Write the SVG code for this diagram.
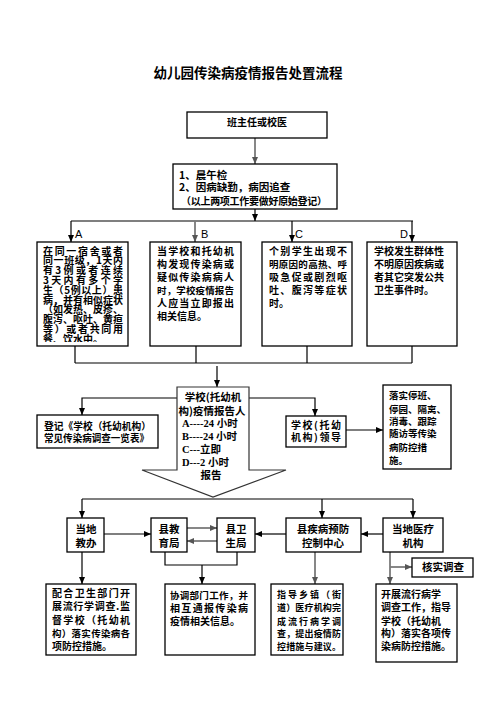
<svg xmlns="http://www.w3.org/2000/svg" width="496" height="702" viewBox="0 0 496 702">
<style>
text{font-family:"Noto Sans CJK SC","Liberation Sans",sans-serif;font-weight:bold;fill:#000;font-size:10px}
.m{font-size:10.5px}
.s{font-size:9.5px}
.xs{font-size:9px}
.lat{font-family:"Liberation Serif","Noto Sans CJK SC",serif;font-size:10.5px}
.let{font-family:"Liberation Sans",sans-serif;font-weight:normal;font-size:11px}
.box{fill:#fff;stroke:#000;stroke-width:1.3}
.ln{fill:none;stroke:#000;stroke-width:1.2}
.g{fill:none;stroke:#7a7a7a;stroke-width:1.8}
.c{text-anchor:middle}
</style>
<defs>
<marker id="ab" markerWidth="7" markerHeight="6" refX="7" refY="3" orient="auto" markerUnits="userSpaceOnUse"><path d="M0,0 L7,3 L0,6 z" fill="#000"/></marker>
<marker id="ag" markerWidth="7" markerHeight="6" refX="7" refY="3" orient="auto" markerUnits="userSpaceOnUse"><path d="M0,0 L7,3 L0,6 z" fill="#555"/></marker>
<clipPath id="clipA"><rect x="37" y="242" width="91" height="100"/></clipPath>
</defs>
<rect width="496" height="702" fill="#fff"/>
<text x="248" y="78" class="c" style="font-size:13.5px">幼儿园传染病疫情报告处置流程</text>

<g id="connectors">
<path class="g" d="M255,138 V164" marker-end="url(#ag)"/>
<path class="ln" d="M255,209 V221" marker-end="url(#ab)"/>
<path class="ln" d="M71,221 H413"/>
<path class="ln" d="M71,221 V242" marker-end="url(#ab)"/>
<path class="g" d="M195,221 V242" marker-end="url(#ag)"/>
<path class="ln" d="M292,221 V242" marker-end="url(#ab)"/>
<path class="ln" d="M412,221 V242" marker-end="url(#ab)"/>
<path class="ln" d="M75,346 V363 M196,346 V363 M307,346 V363 M412,346 V363 M75,363 H412"/>
<path class="ln" d="M217,366 V387" marker-end="url(#ab)"/>
<path class="ln" d="M178,398 H82 V415" marker-end="url(#ab)"/>
<path class="ln" d="M249,398 H315 V416" marker-end="url(#ab)"/>
<path class="ln" d="M346,430 H383" marker-end="url(#ab)"/>
<path class="ln" d="M82,499 H413"/>
<path class="ln" d="M82,499 V518" marker-end="url(#ab)"/>
<path class="ln" d="M322,499 V518" marker-end="url(#ab)"/>
<path class="ln" d="M413,499 V518" marker-end="url(#ab)"/>
<path class="ln" d="M104,534 H151" marker-end="url(#ab)"/>
<path class="g" d="M187,528 H217" marker-end="url(#ag)"/>
<path class="g" d="M217,541 H187" marker-end="url(#ag)"/>
<path class="ln" d="M286,534 H255" marker-end="url(#ab)"/>
<path class="ln" d="M383,534 H361" marker-end="url(#ab)"/>
<path class="ln" d="M165,552 V565 H237 V552"/>
<path class="ln" d="M202,565 V584" marker-end="url(#ab)"/>
<path class="ln" d="M82,552 V584" marker-end="url(#ab)"/>
<path class="g" d="M315,552 V584" marker-end="url(#ag)"/>
<path class="g" d="M390,552 V584" marker-end="url(#ag)"/>
<path class="g" d="M390,567 H412" marker-end="url(#ag)"/>
</g>

<g id="letters">
<text class="let" x="75" y="238">A</text>
<text class="let" x="201" y="238">B</text>
<text class="let" x="295" y="238">C</text>
<text class="let" x="400" y="238">D</text>
</g>

<g id="n1">
<rect class="box" x="187" y="112" width="140" height="26"/>
<text class="c" x="257" y="126">班主任或校医</text>
</g>

<g id="n2">
<rect class="box" x="173" y="164" width="164" height="45"/>
<text class="m" x="179" y="179">1、晨午检</text>
<text class="m" x="179" y="191">2、因病缺勤，病因追查</text>
<text x="181" y="205" textLength="146" lengthAdjust="spacing">（以上两项工作要做好原始登记）</text>
</g>

<g id="nA">
<rect class="box" x="37" y="242" width="91" height="104"/>
<g class="s" clip-path="url(#clipA)">
<text x="43" y="254.5" textLength="80" lengthAdjust="spacing">在同一宿舍或者</text>
<text x="43" y="264.3" textLength="80" lengthAdjust="spacing">同一班级，1天内</text>
<text x="43" y="274.1" textLength="80" lengthAdjust="spacing">有3例或者连续</text>
<text x="43" y="283.9" textLength="80" lengthAdjust="spacing">3天内有多个学</text>
<text x="43" y="293.7" textLength="80" lengthAdjust="spacing">生（5例以上）患</text>
<text x="43" y="303.5" textLength="80" lengthAdjust="spacing">病，并有相似症状</text>
<text x="43" y="313.3" textLength="80" lengthAdjust="spacing">（如发热、皮疹、</text>
<text x="43" y="323.1" textLength="80" lengthAdjust="spacing">腹泻、呕吐、黄疸</text>
<text x="43" y="332.9" textLength="80" lengthAdjust="spacing">等）或者共同用</text>
<text x="43" y="342.7">餐、饮水中。</text>
</g>
</g>

<g id="nB">
<rect class="box" x="150" y="242" width="91" height="104"/>
<text x="157" y="254.5" textLength="77" lengthAdjust="spacing">当学校和托幼机</text>
<text x="157" y="267.8" textLength="77" lengthAdjust="spacing">构发现传染病或</text>
<text x="157" y="280.8" textLength="77" lengthAdjust="spacing">疑似传染病病人</text>
<text class="s" x="157" y="293.8" textLength="77" lengthAdjust="spacing">时，学校疫情报告</text>
<text x="157" y="306.8" textLength="77" lengthAdjust="spacing">人应当立即报出</text>
<text x="157" y="319.8">相关信息。</text>
</g>

<g id="nC">
<rect class="box" x="262" y="242" width="90" height="104"/>
<text x="269" y="254.5" textLength="78" lengthAdjust="spacing">个别学生出现不</text>
<text class="s" x="269" y="267.8" textLength="78" lengthAdjust="spacing">明原因的高热、呼</text>
<text x="269" y="280.8" textLength="78" lengthAdjust="spacing">吸急促或剧烈呕</text>
<text x="269" y="293.8" textLength="78" lengthAdjust="spacing">吐、腹泻等症状</text>
<text x="269" y="306.8">时。</text>
</g>

<g id="nD">
<rect class="box" x="367" y="242" width="90" height="104"/>
<text x="374" y="254.5" textLength="70" lengthAdjust="spacing">学校发生群体性</text>
<text x="374" y="267.8" textLength="70" lengthAdjust="spacing">不明原因疾病或</text>
<text x="374" y="280.8" textLength="70" lengthAdjust="spacing">者其它突发公共</text>
<text x="374" y="293.8">卫生事件时。</text>
</g>

<g id="nReport">
<path d="M177,387 H249 V470 H286 L213,497 L142,470 H177 Z" fill="#fff" stroke="#333" stroke-width="1.2"/>
<text class="c m" x="213" y="401">学校(托幼机</text>
<text class="c m" x="212" y="415">构)疫情报告人</text>
<text class="lat" x="182" y="427">A----24 小时</text>
<text class="lat" x="182" y="440">B----24 小时</text>
<text class="lat" x="182" y="453">C---立即</text>
<text class="lat" x="182" y="466">D---2 小时</text>
<text class="c m" x="211" y="479">报告</text>
</g>

<g id="nRegister">
<rect class="box" x="37" y="415" width="121" height="33"/>
<text x="44" y="430" textLength="107" lengthAdjust="spacingAndGlyphs">登记《学校（托幼机构）</text>
<text x="44" y="442" textLength="105" lengthAdjust="spacingAndGlyphs">常见传染病调查一览表》</text>
</g>

<g id="nLeader">
<rect class="box" x="286" y="416" width="60" height="31"/>
<text x="291" y="429" textLength="50" lengthAdjust="spacing">学校(托幼</text>
<text x="291" y="441" textLength="50" lengthAdjust="spacing">机构)领导</text>
</g>

<g id="nMeasures" class="s">
<rect class="box" x="383" y="385" width="68" height="84"/>
<text class="s" x="389" y="399">落实停班、</text>
<text class="s" x="389" y="412.5">停园、隔离、</text>
<text class="s" x="389" y="425">消毒、跟踪</text>
<text class="s" x="389" y="437">随访等传染</text>
<text class="s" x="389" y="450.5">病防控措</text>
<text class="s" x="389" y="464">施。</text>
</g>

<g id="nJiaoban">
<rect class="box" x="67" y="518" width="37" height="34"/>
<text class="c m" x="86" y="532.5">当地</text>
<text class="c m" x="86" y="546.5">教办</text>
</g>

<g id="nJiaoyu">
<rect class="box" x="151" y="518" width="36" height="34"/>
<text class="c m" x="169" y="532.5">县教</text>
<text class="c m" x="169" y="546.5">育局</text>
</g>

<g id="nWeisheng">
<rect class="box" x="217" y="518" width="38" height="34"/>
<text class="c m" x="236" y="532.5">县卫</text>
<text class="c m" x="236" y="546.5">生局</text>
</g>

<g id="nCDC">
<rect class="box" x="286" y="518" width="75" height="34"/>
<text class="c m" x="323" y="532.5">县疾病预防</text>
<text class="c m" x="323" y="546.5">控制中心</text>
</g>

<g id="nHospital">
<rect class="box" x="383" y="518" width="60" height="34"/>
<text class="c m" x="413" y="532.5">当地医疗</text>
<text class="c m" x="413" y="546.5">机构</text>
</g>

<g id="nVerify">
<rect class="box" x="412" y="558" width="61" height="19"/>
<text class="c m" x="443" y="571">核实调查</text>
</g>

<g id="nEduTask">
<rect class="box" x="46" y="584" width="90" height="71"/>
<text x="52" y="596.5" textLength="78" lengthAdjust="spacing">配合卫生部门开</text>
<text x="52" y="610" textLength="78" lengthAdjust="spacing">展流行学调查.监</text>
<text x="52" y="623.5" textLength="78" lengthAdjust="spacing">督学校（托幼机</text>
<text class="s" x="52" y="636.5" textLength="78" lengthAdjust="spacing">构）落实传染病各</text>
<text x="52" y="649.5">项防控措施。</text>
</g>

<g id="nCoord">
<rect class="box" x="165" y="584" width="90" height="71"/>
<text class="s" x="170" y="598.5" textLength="78" lengthAdjust="spacing">协调部门工作，并</text>
<text x="170" y="611.5" textLength="78" lengthAdjust="spacing">相互通报传染病</text>
<text x="170" y="624.5">疫情相关信息。</text>
</g>

<g id="nCDCTask">
<rect class="box" x="271" y="584" width="72" height="71"/>
<text class="xs" x="277" y="597.5" textLength="64" lengthAdjust="spacing">指导乡镇（街</text>
<text class="xs" x="277" y="611" textLength="64" lengthAdjust="spacing">道）医疗机构完</text>
<text class="xs" x="277" y="624.5" textLength="64" lengthAdjust="spacing">成流行病学调</text>
<text class="xs" x="277" y="637" textLength="64" lengthAdjust="spacing">查，提出疫情防</text>
<text class="xs" x="277" y="650" textLength="64" lengthAdjust="spacing">控措施与建议。</text>
</g>

<g id="nHospTask">
<rect class="box" x="376" y="584" width="81" height="78"/>
<text x="381" y="597.5">开展流行病学</text>
<text x="381" y="611" textLength="70" lengthAdjust="spacing">调查工作，指导</text>
<text x="381" y="624.5">学校（托幼机</text>
<text x="381" y="637" textLength="70" lengthAdjust="spacing">构）落实各项传</text>
<text x="381" y="650" textLength="70" lengthAdjust="spacing">染病防控措施。</text>
</g>
</svg>
